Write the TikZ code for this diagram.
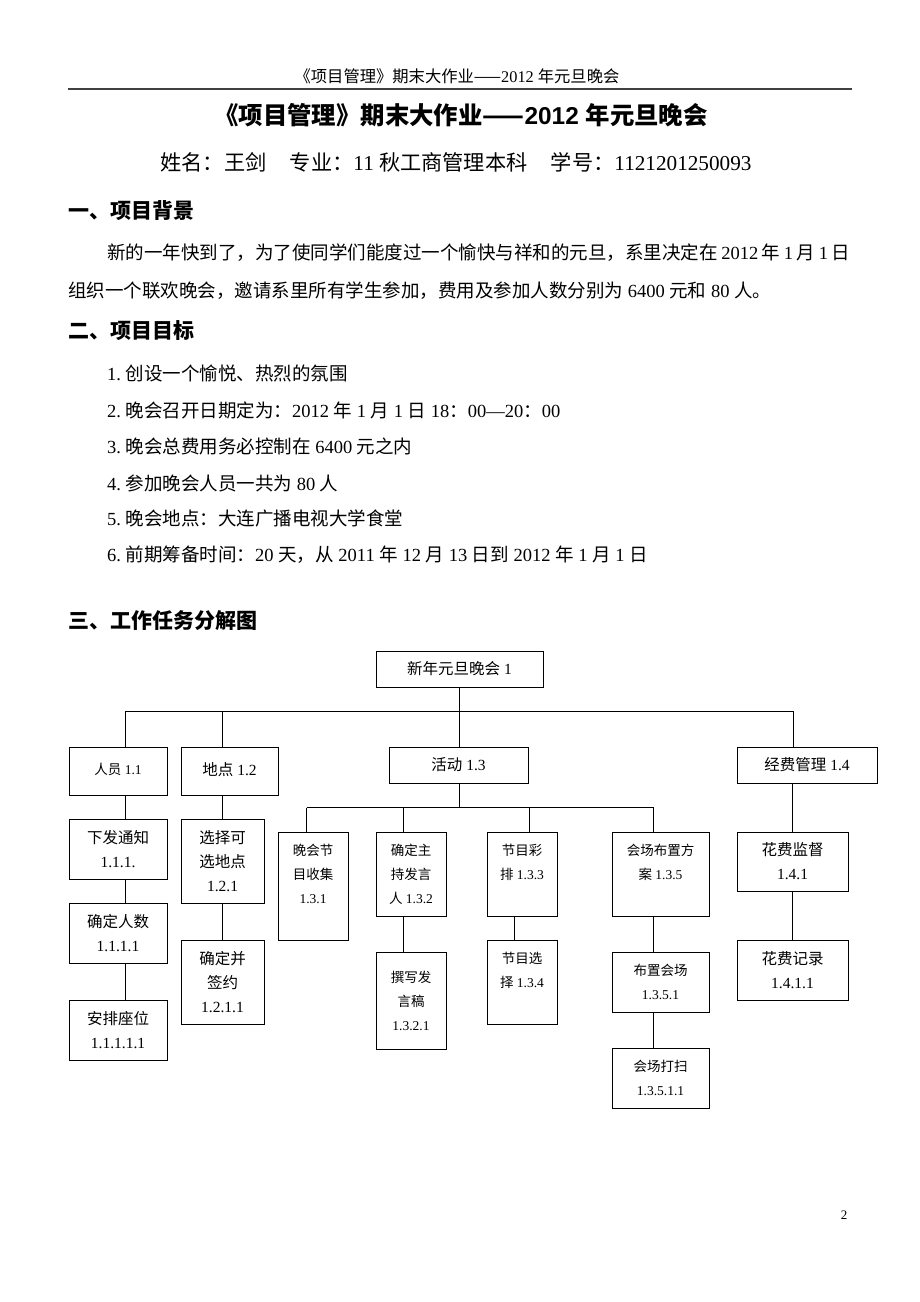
\documentclass[tikz,border=0pt]{standalone}
\usepackage{fontspec}
\setmainfont{Liberation Serif}
\setsansfont{Liberation Sans}
\newfontfamily\cjk{Noto Sans CJK SC}
\newcommand\zh[1]{{\cjk #1}}
\begin{document}
\begin{tikzpicture}[x=1pt,y=-1pt,
  box/.style={draw, line width=1pt, inner sep=0pt, align=center},
  big/.style={font=\fontsize{15.5}{24}\selectfont},
  small/.style={font=\fontsize{13.5}{24}\selectfont},
  conn/.style={line width=1pt},
  body/.style={anchor=base west, inner sep=0pt, font=\fontsize{18.5}{22}\selectfont},
  head/.style={anchor=base west, inner sep=0pt, font=\fontsize{21}{24}\selectfont\bfseries}]
\fill[white] (0,0) rectangle (920,1302);
\useasboundingbox (0,0) rectangle (920,1302);

% page header
\node[anchor=base, inner sep=0pt, font=\fontsize{16.3}{18}\selectfont] (hdr) at (457,82) {\zh{《项目管理》期末大作业——}2012 \zh{年元旦晚会}};
\draw[line width=1.6pt, black!75] (68,89) coordinate (hrl) -- (852,89) coordinate (hrr);

% title
\node[anchor=base, inner sep=0pt, font=\fontsize{24.4}{28}\selectfont\bfseries\sffamily] (title) at (461,124) {\zh{《项目管理》期末大作业——}2012 \zh{年元旦晚会}};
\node[anchor=base, inner sep=0pt, font=\fontsize{21.2}{24}\selectfont] (info) at (456,170) {\zh{姓名：王剑}\hspace{1.1em}\zh{专业：}11 \zh{秋工商管理本科}\hspace{1.1em}\zh{学号：}1121201250093};

% section 1
\node[head] (h1) at (68,218) {\zh{一、项目背景}};
\node[body] (p1) at (107,259) {\makebox[743pt][s]{\zh{新的一年快到了，为了使同学们能度过一个愉快与祥和的元旦，系里决定在} 2012 \zh{年} 1 \zh{月} 1 \zh{日}}};
\node[body] (p2) at (68,297) {\zh{组织一个联欢晚会，邀请系里所有学生参加，费用及参加人数分别为} 6400 \zh{元和} 80 \zh{人。}};

% section 2
\node[head] (h2) at (68,338) {\zh{二、项目目标}};
\node[body] (i1) at (107,380) {1.\ \zh{创设一个愉悦、热烈的氛围}};
\node[body] (i2) at (107,417) {2.\ \zh{晚会召开日期定为：}2012 \zh{年} 1 \zh{月} 1 \zh{日} 18\zh{：}00—20\zh{：}00};
\node[body] (i3) at (107,453) {3.\ \zh{晚会总费用务必控制在} 6400 \zh{元之内}};
\node[body] (i4) at (107,490) {4.\ \zh{参加晚会人员一共为} 80 \zh{人}};
\node[body] (i5) at (107,525) {5.\ \zh{晚会地点：大连广播电视大学食堂}};
\node[body] (i6) at (107,561) {6.\ \zh{前期筹备时间：}20 \zh{天，从} 2011 \zh{年} 12 \zh{月} 13 \zh{日到} 2012 \zh{年} 1 \zh{月} 1 \zh{日}};

% section 3
\node[head] (h3) at (68,628) {\zh{三、工作任务分解图}};

% WBS boxes
\node[box, big, minimum width=167pt, minimum height=36pt] (root) at (459.5,669) {\zh{新年元旦晚会} 1};
\node[box, small, minimum width=98pt, minimum height=48pt, text depth=5pt] (n11) at (118,771) {\zh{人员} 1.1};
\node[box, big, minimum width=97pt, minimum height=48pt, text depth=5pt] (n12) at (229.5,771) {\zh{地点} 1.2};
\node[box, big, minimum width=139pt, minimum height=36pt] (n13) at (458.5,765) {\zh{活动} 1.3};
\node[box, big, minimum width=140pt, minimum height=36pt] (n14) at (807,765) {\zh{经费管理} 1.4};

\node[box, big, minimum width=98pt, minimum height=60pt] (n111) at (118,849) {\zh{下发通知}\\1.1.1.};
\node[box, big, minimum width=98pt, minimum height=60pt] (n1111) at (118,933) {\zh{确定人数}\\1.1.1.1};
\node[box, big, minimum width=98pt, minimum height=60pt] (n11111) at (118,1030) {\zh{安排座位}\\1.1.1.1.1};

\node[box, big, minimum width=83pt, minimum height=84pt] (n121) at (222.5,861) {\zh{选择可}\\\zh{选地点}\\1.2.1};
\node[box, big, minimum width=83pt, minimum height=84pt] (n1211) at (222.5,982) {\zh{确定并}\\\zh{签约}\\1.2.1.1};

\node[box, small, minimum width=70pt, minimum height=108pt] (n131) at (313,886) {\zh{晚会节}\\\zh{目收集}\\1.3.1\\~};
\node[box, small, minimum width=70pt, minimum height=84pt] (n132) at (411,874) {\zh{确定主}\\\zh{持发言}\\\zh{人} 1.3.2};
\node[box, small, minimum width=70pt, minimum height=97pt] (n1321) at (411,1000.5) {\zh{撰写发}\\\zh{言稿}\\1.3.2.1};
\node[box, small, minimum width=70pt, minimum height=84pt] (n133) at (522,874) {\zh{节目彩}\\\zh{排} 1.3.3\\~};
\node[box, small, minimum width=70pt, minimum height=84pt] (n134) at (522,982) {\zh{节目选}\\\zh{择} 1.3.4\\~};
\node[box, small, minimum width=97pt, minimum height=84pt] (n135) at (660.5,874) {\zh{会场布置方}\\\zh{案} 1.3.5\\~};
\node[box, small, minimum width=97pt, minimum height=60pt] (n1351) at (660.5,982) {\zh{布置会场}\\1.3.5.1};
\node[box, small, minimum width=97pt, minimum height=60pt] (n13511) at (660.5,1078) {\zh{会场打扫}\\1.3.5.1.1};

\node[box, big, minimum width=111pt, minimum height=59pt] (n141) at (792.5,861.5) {\zh{花费监督}\\1.4.1};
\node[box, big, minimum width=111pt, minimum height=60pt] (n1411) at (792.5,970) {\zh{花费记录}\\1.4.1.1};

% connectors, level 1
\coordinate (bus) at (459,711);
\coordinate (j11) at (125,711);
\coordinate (j12) at (222.7,711);
\coordinate (j14) at (793,711);
\draw[conn] (root.south -| bus) -- (bus);
\draw[conn] (j11) -- (j14);
\draw[conn] (j11) -- (j11 |- n11.north);
\draw[conn] (j12) -- (j12 |- n12.north);
\draw[conn] (bus) -- (bus |- n13.north);
\draw[conn] (j14) -- (j14 |- n14.north);

% people branch
\draw[conn] (n11.south -| j11) -- (n111.north -| j11);
\draw[conn] (n111.south -| j11) -- (n1111.north -| j11);
\draw[conn] (n1111.south -| j11) -- (n11111.north -| j11);

% place branch
\draw[conn] (n12.south -| j12) -- (n121.north -| j12);
\draw[conn] (n121.south -| j12) -- (n1211.north -| j12);

% activity branch
\coordinate (sb) at (459,807.5);
\coordinate (s131) at (306.5,807.5);
\coordinate (s132) at (403.3,807.5);
\coordinate (s133) at (529,807.5);
\coordinate (s135) at (653.5,807.5);
\draw[conn] (n13.south -| sb) -- (sb);
\draw[conn] (s131) -- (s135);
\draw[conn] (s131) -- (s131 |- n131.north);
\draw[conn] (s132) -- (s132 |- n132.north);
\draw[conn] (s133) -- (s133 |- n133.north);
\draw[conn] (s135) -- (s135 |- n135.north);
\draw[conn] (n132.south -| s132) -- (n1321.north -| s132);
\draw[conn] ([xshift=-7.5pt]n133.south) -- ([xshift=-7.5pt]n134.north);
\draw[conn] (n135.south -| s135) -- (n1351.north -| s135);
\draw[conn] (n1351.south -| s135) -- (n13511.north -| s135);

% budget branch
\draw[conn] (n14.south -| n141.north) -- (n141.north);
\draw[conn] (n141.south) -- (n1411.north);

% page number
\node[anchor=base, inner sep=0pt, font=\fontsize{13}{15}\selectfont] (pg) at (844,1219) {2};
\end{tikzpicture}
\end{document}
